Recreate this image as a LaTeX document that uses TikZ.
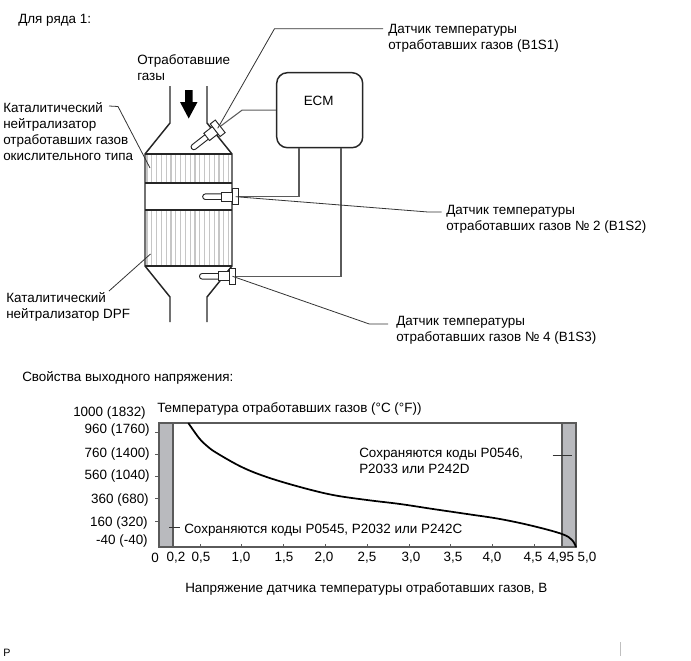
\documentclass[tikz,border=0pt]{standalone}
\usepackage{fontspec}
\setmainfont{Liberation Sans}
\definecolor{bandgray}{HTML}{B9BABE}
\definecolor{framegray}{HTML}{5A5A5A}
\tikzset{
  txt/.style={font=\fontsize{10.08}{12}\selectfont, inner sep=0pt, align=left, anchor=north west, yshift=-1.1pt},
  ticklab/.style={font=\fontsize{10.08}{12}\selectfont, inner sep=0pt, yshift=-0.8pt},
  wall/.style={black!85, line width=1.1pt},
  wire/.style={framegray, line width=0.8pt},
  leader/.style={black!80, line width=0.6pt},
  sensorpart/.style={draw=black!85, fill=white, line width=0.7pt},
  ecmbox/.style={draw=black!85, line width=1.1pt, rounded corners=8pt, minimum width=64.5pt, minimum height=56.25pt, inner sep=0pt}
}
\begin{document}
\begin{tikzpicture}[x=0.75pt,y=-0.75pt]
  \useasboundingbox (0,0) rectangle (691,660);

  % Titres
  \node[txt] (titreRyad) at (18,12.5) {Для ряда 1:};
  \node[txt] (titreSvoistva) at (22,369.5) {Свойства выходного напряжения:};

  % Catalyseurs
  \foreach \hx in {147,151.8,...,231} {
    \draw[gray!45,line width=1pt] (\hx,154) -- (\hx,183);
    \draw[gray!45,line width=1pt] (\hx,210) -- (\hx,266);
  }

  % Conduit
  \draw[wall] (170,86) -- (170,123) -- (145,154) -- (145,266) -- (170,297) -- (170,322);
  \draw[wall] (207,86) -- (207,123) -- (232,154) -- (232,266) -- (207,297) -- (207,322);
  \draw[wall] (145,154) -- (232,154);
  \draw[wall] (145,183) -- (232,183);
  \draw[wall] (145,210) -- (232,210);
  \draw[wall] (145,266) -- (232,266);

  % Fleche des gaz
  \fill[black] (185,90) -- (192.5,90) -- (192.5,102) -- (197.5,102) -- (188.7,118.5) -- (180,102) -- (185,102) -- cycle;
  \node[txt] (gaz) at (137,52.5) {Отработавшие\\газы};

  % ECM
  \node[ecmbox] (ecm) at (319.7,110.2) {};
  \node[ticklab] (ecmtexte) at (318.7,100) {ECM};
  \coordinate (sondeA) at (217.7,128.3);
  \coordinate (sondeB) at (235.7,196.7);
  \coordinate (sondeC) at (232.5,276.3);
  \coordinate (sortieB) at (299,147.7);
  \coordinate (sortieC) at (341,147.7);

  \draw[wire] (ecm.west) -- (242,110.2) -- (sondeA);
  \draw[wire] (sortieB) |- (sondeB);
  \draw[wire] (sortieC) |- (sondeC);

  % Sondes
  \foreach \sonde/\angle in {sondeA/38,sondeB/0,sondeC/0} {
    \begin{scope}[shift={(\sonde)},rotate=\angle]
      \draw[sensorpart,rounded corners=2pt] (-33,-2.8) rectangle (-12,2.8);
      \draw[sensorpart] (-14,-4.6) rectangle (-3,4.6);
      \draw[sensorpart] (-3.2,-8) rectangle (3.2,8);
    \end{scope}
  }

  % Legendes
  \node[txt] (catA) at (3,101) {Каталитический\\нейтрализатор\\отработавших газов\\окислительного типа};
  \node[txt] (catB) at (6,291) {Каталитический\\нейтрализатор DPF};
  \node[txt] (labelA) at (388,22.5) {Датчик температуры\\отработавших газов (B1S1)};
  \node[txt] (labelB) at (446,203.5) {Датчик температуры\\отработавших газов № 2 (B1S2)};
  \node[txt] (labelC) at (396,314.5) {Датчик температуры\\отработавших газов № 4 (B1S3)};

  \coordinate (finCatA) at (109,106);
  \coordinate (finCatB) at (109,291);
  \coordinate (finA) at (383,28.7);
  \coordinate (finB) at (441.7,212);
  \coordinate (finC) at (388,324);
  \draw[leader] (finCatA) -- (118,106.5) -- (150,168);
  \draw[leader] (finCatB) -- (150.5,254);
  \draw[leader] (sondeA) -- (274.5,28.7) -- (finA);
  \draw[leader] (sondeB) -- (428,212) -- (finB);
  \draw[leader] (sondeC) -- (369.3,324) -- (finC);

  % Bandes grises
  \fill[bandgray] (159,423) rectangle (173,547);
  \fill[bandgray] (562,423) rectangle (576,547);
  % Cadre
  \draw[framegray,line width=1.1pt] (159,423) rectangle (576,547);
  \draw[framegray,line width=1.1pt] (173,423) -- (173,547);
  \draw[framegray,line width=1.1pt] (562,423) -- (562,547);

  % Graduations
  \foreach \ty in {432,454,476.7,498.7,521}
    \draw[framegray,line width=0.7pt] (155,\ty) -- (159,\ty);
  \foreach \tx in {200,241.7,283.7,325.7,367,409,450.7,492,534}
    \draw[framegray,line width=0.7pt] (\tx,544) -- (\tx,547);

  % Temperatures
  \node[ticklab,anchor=east] (tmil) at (146,412) {1000 (1832)};
  \node[ticklab,anchor=east] (t960) at (150,429) {960 (1760)};
  \node[ticklab,anchor=east] (t760) at (150,453) {760 (1400)};
  \node[ticklab,anchor=east] (t560) at (150,475) {560 (1040)};
  \node[ticklab,anchor=east] (t360) at (149,499) {360 (680)};
  \node[ticklab,anchor=east] (t160) at (148,522) {160 (320)};
  \node[ticklab,anchor=east] (tmoins) at (148,540) {-40 (-40)};
  \node[txt] (titreTemp) at (157,401) {Температура отработавших газов (°C (°F))};

  % Tensions
  \foreach \tx/\tlab/\tname in {155/0/a,176/{0,2}/b,201/{0,5}/c,241/{1,0}/d,284/{1,5}/e,324/{2,0}/f,367/{2,5}/g,411/{3,0}/h,453/{3,5}/i,492/{4,0}/j,533/{4,5}/k,561/{4,95}/l,587/{5,0}/m}
    \node[ticklab] (v\tname) at (\tx,557) {\tlab};
  \node[txt] (titreTension) at (185,581) {Напряжение датчика температуры отработавших газов, В};

  % Courbe
  \draw[black,line width=1.3pt] plot[smooth,tension=0.6] coordinates {(188.3,423) (199,438) (207,446) (216.7,453) (241.7,467) (266.7,477) (300,487) (333,495) (367,500) (400,504) (433,509) (467,514) (500,519) (533,526) (562,534) (572,540) (576,547)};

  % Codes
  \node[txt] (codesBas) at (184,522) {Сохраняются коды P0545, P2032 или P242C};
  \node[txt] (codesHaut) at (359,446) {Сохраняются коды P0546,\\P2033 или P242D};
  \coordinate (traitBasA) at (169,527.7);
  \coordinate (traitBasB) at (180,527.7);
  \coordinate (traitHautA) at (552.7,455);
  \coordinate (traitHautB) at (571.7,455);
  \draw[leader] (traitBasA) -- (traitBasB);
  \draw[leader] (traitHautA) -- (traitHautB);

  % Bas de page
  \node[txt,font=\fontsize{8}{8}\selectfont] (piedP) at (3,647) {P};
  \draw[gray!50,line width=0.6pt] (620,642) -- (620,656);
\end{tikzpicture}
\end{document}
